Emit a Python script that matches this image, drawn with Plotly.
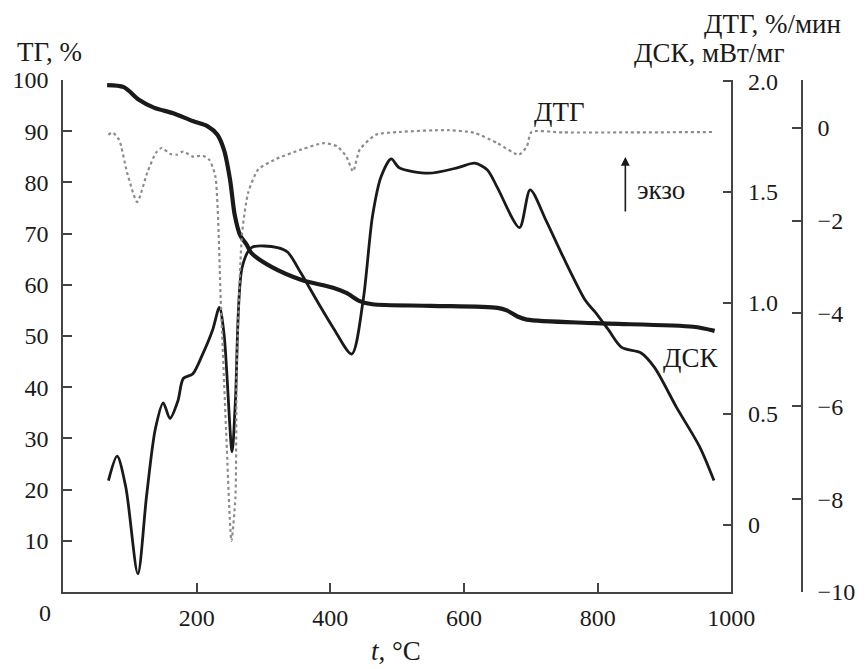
import plotly.graph_objects as go

# Thermogravimetry (ТГ), mass %
temp_tg = [66, 91, 113, 136, 165, 194, 216, 231, 241, 250, 257, 265, 275, 282, 312,
           356, 404, 424, 444, 463, 551, 650, 664, 680, 694, 796, 943, 975]
tg = [99.0, 98.6, 96.2, 94.6, 93.5, 92.0, 91.0, 89.3, 86.3, 80.5, 73.6, 69.7, 67.8,
      66.2, 63.5, 61.0, 59.4, 58.4, 56.8, 56.2, 55.9, 55.5, 55.0, 53.8, 53.2, 52.5,
      51.8, 51.0]

# Differential scanning calorimetry (ДСК), mW/mg
temp_dsc = [68, 81, 94, 112, 125, 138, 150, 160, 172, 180, 194, 209, 224, 234, 241,
            253, 258, 268, 282, 321, 336, 356, 380, 404, 432, 449, 463, 476, 491,
            503, 547, 591, 616, 635, 650, 683, 699, 723, 748, 782, 796, 816, 836,
            865, 885, 918, 953, 974]
dsc = [0.20, 0.31, 0.17, -0.22, 0.13, 0.43, 0.55, 0.48, 0.56, 0.66, 0.68, 0.77,
       0.88, 0.98, 0.86, 0.33, 0.56, 1.16, 1.25, 1.25, 1.23, 1.135, 1.01, 0.89,
       0.77, 1.01, 1.39, 1.57, 1.65, 1.61, 1.585, 1.61, 1.63, 1.60, 1.52, 1.34,
       1.51, 1.37, 1.21, 1.01, 0.96, 0.88, 0.80, 0.775, 0.71, 0.53, 0.35, 0.20]

# Derivative thermogravimetry (ДТГ), %/min
temp_dtg = [68, 74, 84, 96, 111, 126, 139, 148, 160, 170, 180, 194, 209, 219, 228,
            236, 244, 252, 258, 260, 268, 277, 292, 316, 356, 390, 410, 424, 434,
            444, 468, 503, 576, 616, 650, 682, 694, 701, 748, 845, 972]
dtg = [-0.15, -0.10, -0.26, -0.97, -1.60, -0.97, -0.54, -0.43, -0.56, -0.58, -0.51,
       -0.62, -0.60, -0.69, -1.05, -3.70, -6.50, -8.90, -7.96, -5.15, -2.27, -1.40,
       -0.90, -0.69, -0.47, -0.33, -0.40, -0.62, -0.94, -0.47, -0.15, -0.09, -0.05,
       -0.11, -0.33, -0.58, -0.40, -0.09, -0.10, -0.10, -0.09]

x_ticks = [200, 400, 600, 800, 1000]
tg_ticks = [10, 20, 30, 40, 50, 60, 70, 80, 90, 100]
dsc_ticks = [0, 0.5, 1.0, 1.5, 2.0]
dsc_tick_text = ["0", "0.5", "1.0", "1.5", "2.0"]
dtg_ticks = [-10, -8, -6, -4, -2, 0]
dtg_tick_text = ["\u221210", "\u22128", "\u22126", "\u22124", "\u22122", "0"]

FONT = "'Liberation Serif', 'Times New Roman', serif"
TICK = dict(family=FONT, size=24, color="#1a1a1a")
TXT = dict(family=FONT, size=27, color="#1a1a1a")
AX = "#444444"

fig = go.Figure()
fig.add_trace(go.Scatter(x=temp_dtg, y=dtg, yaxis="y3", mode="lines",
                         line=dict(color="#8c8c8c", width=2.2, dash="dot",
                                   shape="spline", smoothing=0.6)))
fig.add_trace(go.Scatter(x=temp_dsc, y=dsc, yaxis="y2", mode="lines",
                         line=dict(color="#1a1a1a", width=2.8, shape="spline",
                                   smoothing=0.8)))
fig.add_trace(go.Scatter(x=temp_tg, y=tg, yaxis="y", mode="lines",
                         line=dict(color="#1a1a1a", width=4.2, shape="spline",
                                   smoothing=0.8)))

axis_common = dict(showline=True, linecolor=AX, linewidth=1.6, showgrid=False,
                   zeroline=False, ticks="inside", ticklen=9, tickcolor=AX,
                   tickwidth=1.6, tickfont=TICK)

W, H = 867, 669
L, R, T, B = 58, 56, 80, 77
pw, ph = W - L - R, H - T - B


def px(xp):
    return (xp - L) / pw


def py(yp):
    return (H - B - yp) / ph


fig.update_layout(
    width=W, height=H,
    margin=dict(l=L, r=R, t=T, b=B),
    paper_bgcolor="white", plot_bgcolor="white",
    showlegend=False,
    font=TICK,
    xaxis=dict(domain=[0, px(739)], range=[0, 1000], tickvals=x_ticks,
               ticklabelstandoff=3, **axis_common),
    yaxis=dict(range=[0, 100], tickvals=tg_ticks, ticklabelstandoff=8,
               **axis_common),
    yaxis2=dict(overlaying="y", side="right", anchor="x",
                range=[-0.302, 2.005], tickvals=dsc_ticks,
                ticktext=dsc_tick_text, ticklabelstandoff=10, **axis_common),
    yaxis3=dict(overlaying="y", side="right", anchor="free", position=1.0,
                range=[-10, 1.03], tickvals=dtg_ticks, ticktext=dtg_tick_text,
                ticklabelstandoff=10, **axis_common),
)


def label(text, xp, yp, anchor="left"):
    return dict(text=text, x=px(xp), y=py(yp), xref="paper", yref="paper",
                showarrow=False, xanchor=anchor, yanchor="middle", font=TXT)


annotations = [
    dict(text="0", x=0, y=0, xref="x", yref="paper", xshift=-18, yshift=-21,
         showarrow=False, xanchor="center", yanchor="middle", font=TICK),
    label("ТГ, %", 9, 52),
    label("ДТГ, %/мин", 853, 24, anchor="right"),
    label("ДСК, мВт/мг", 796, 53, anchor="right"),
    label("ДТГ", 536, 112),
    label("ДСК", 667, 358),
    label("экзо", 641, 190),
    label("<i>t</i>, °C", 397, 651, anchor="center"),
    dict(text="", x=px(631), y=py(157), xref="paper", yref="paper",
         ax=0, ay=56, axref="pixel", ayref="pixel",
         showarrow=True, arrowhead=2, arrowsize=1.1, arrowwidth=1.6,
         arrowcolor="#1a1a1a"),
]
fig.update_layout(annotations=annotations)

fig.write_html("out.html")
